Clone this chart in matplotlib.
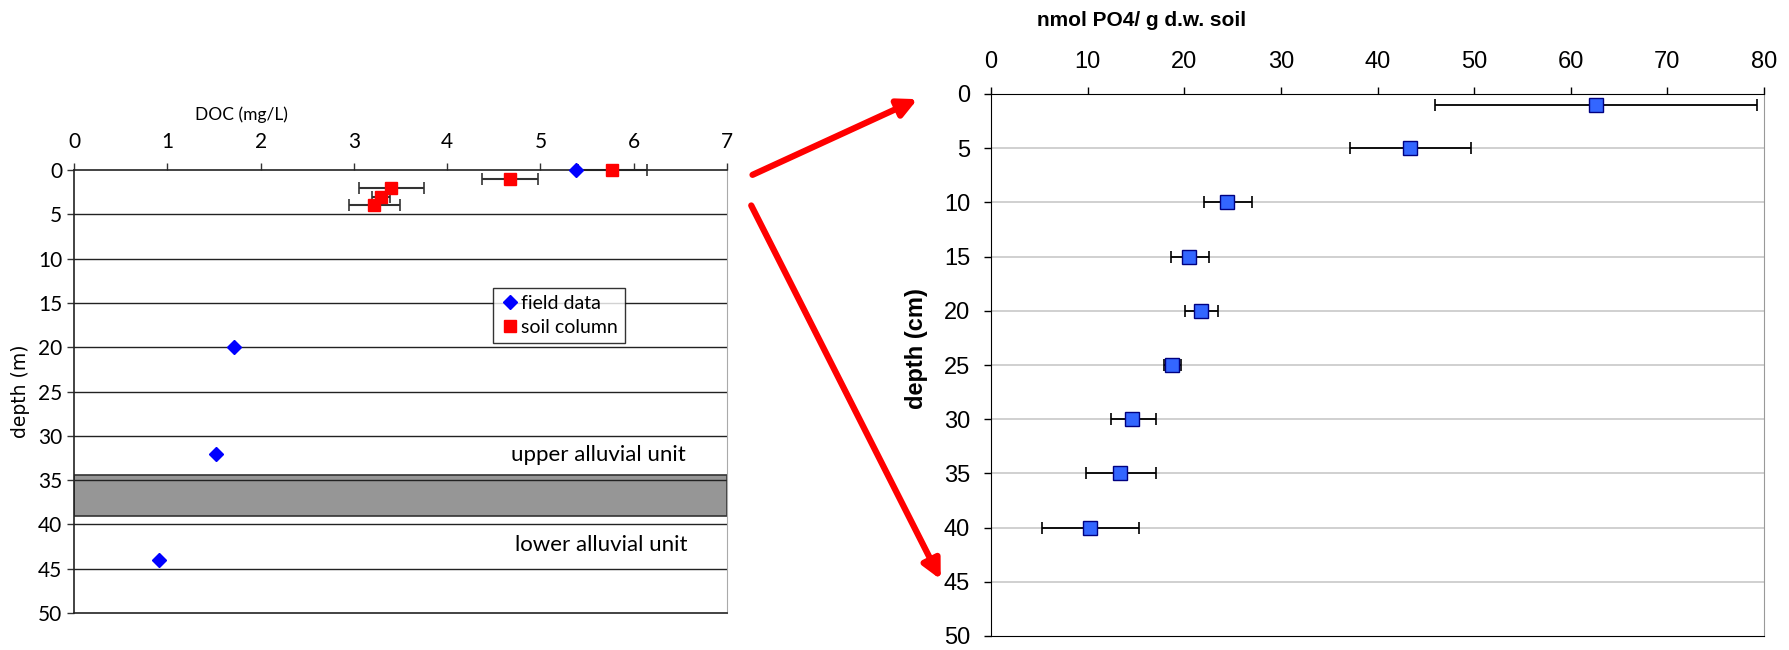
import matplotlib
matplotlib.use("Agg")
import matplotlib.pyplot as plt
from matplotlib.patches import FancyArrowPatch

# field data (DOC, depth m)
field_doc = [5.38, 1.72, 1.52, 0.91]
field_depth = [0, 20, 32, 44]

# soil column (DOC, depth m, error)
soil_doc = [5.77, 4.67, 3.40, 3.29, 3.22]
soil_depth = [0, 1, 2, 3, 4]
soil_err = [0.37, 0.30, 0.35, 0.10, 0.27]

# phosphate profile (nmol PO4/g, depth cm)
po4 = [62.6, 43.4, 24.4, 20.5, 21.7, 18.7, 14.6, 13.3, 10.2]
po4_depth = [1, 5, 10, 15, 20, 25, 30, 35, 40]
po4_lo = [46.0, 37.2, 22.0, 18.6, 20.1, 17.9, 12.4, 9.8, 5.3]
po4_hi = [79.3, 49.7, 27.0, 22.6, 23.5, 19.7, 17.1, 17.1, 15.3]

clay_top, clay_bottom = 34.4, 39.1

W, H = 1790, 650

fig = plt.figure(figsize=(17.9, 6.5), dpi=100)

# ---- left panel: DOC ----
ax1 = fig.add_axes([74 / W, 1 - 613 / H, 653 / W, 443 / H])
ax1.axhspan(clay_top, clay_bottom, facecolor="#969696", edgecolor="#333333", lw=1.2, zorder=1)
for d in range(5, 50, 5):
    ax1.axhline(d, color="#222222", lw=1.0, zorder=1)
ax1.errorbar(soil_doc, soil_depth, xerr=soil_err, fmt="none", ecolor="#333333",
             elinewidth=1.5, capsize=4, capthick=1.2, zorder=2, clip_on=False)
ax1.plot(field_doc, field_depth, "D", color="#0000ff", ms=7.5, ls="none",
         label="field data", zorder=3, clip_on=False)
ax1.plot(soil_doc, soil_depth, "s", color="#ff0000", ms=8, ls="none",
         label="soil column", zorder=3, clip_on=False)
ax1.set_xlim(0, 7)
ax1.set_ylim(50, 0)
ax1.set_xticks(range(0, 8))
ax1.set_yticks(range(0, 51, 5))
ax1.xaxis.tick_top()
ax1.tick_params(axis="both", direction="out", length=5, width=1, color="#333333", labelsize=15)
ax1.tick_params(axis="x", pad=8)
for lab in ax1.get_xticklabels() + ax1.get_yticklabels():
    lab.set_family("Lato")
for s in ["top", "left", "bottom"]:
    ax1.spines[s].set_color("#222222")
    ax1.spines[s].set_linewidth(1.2)
ax1.spines["right"].set_color("#aaaaaa")
ax1.text(0.257, 1.125, "DOC (mg/L)", transform=ax1.transAxes, ha="center", va="center",
         fontsize=12.5, family="Lato")
ax1.set_ylabel("depth (m)", fontsize=13.5, labelpad=6)
ax1.text(5.62, 32.2, "upper alluvial unit", ha="center", va="center", fontsize=16, family="Lato")
ax1.text(5.65, 42.3, "lower alluvial unit", ha="center", va="center", fontsize=16, family="Lato")
leg = ax1.legend(loc="upper left", bbox_to_anchor=(0.627, 0.755), frameon=True, fancybox=False,
                 edgecolor="black", prop={"family": "Lato", "size": 14}, handletextpad=0.1,
                 handlelength=1.0, borderpad=0.35, labelspacing=0.35)
leg.get_frame().set_linewidth(1.0)

# ---- right panel: PO4 ----
ax2 = fig.add_axes([991 / W, 1 - 636 / H, 773 / W, 542 / H])
for d in range(5, 50, 5):
    ax2.axhline(d, color="#c8c8c8", lw=1.2, zorder=1)
xerr = [[p - lo for p, lo in zip(po4, po4_lo)], [hi - p for p, hi in zip(po4, po4_hi)]]
ax2.errorbar(po4, po4_depth, xerr=xerr, fmt="none", ecolor="black", elinewidth=1.3,
             capsize=4, capthick=1.2, zorder=2)
ax2.plot(po4, po4_depth, "s", color="#3366ff", mec="#000080", mew=1.0, ms=9.5, ls="none", zorder=3)
ax2.set_xlim(0, 80)
ax2.set_ylim(50, 0)
ax2.set_xticks(range(0, 81, 10))
ax2.set_yticks(range(0, 51, 5))
ax2.xaxis.tick_top()
ax2.tick_params(axis="both", direction="out", length=5, width=1, color="black", labelsize=17)
ax2.tick_params(axis="x", pad=10)
ax2.tick_params(axis="y", pad=10)
for lab in ax2.get_xticklabels() + ax2.get_yticklabels():
    lab.set_family("Liberation Sans")
ax2.spines["right"].set_color("#999999")
ax2.text(0.195, 1.135, "nmol PO4/ g d.w. soil", transform=ax2.transAxes, ha="center",
         va="center", fontsize=15, fontweight="bold", family="Liberation Sans")
ax2.text(-0.097, 0.531, "depth (cm)", transform=ax2.transAxes, ha="center", va="center",
         rotation=90, fontsize=17, fontweight="bold", family="Liberation Sans")

# ---- red arrows ----
for (x0, y0), (x1, y1) in [((750, 176), (920, 98)), ((750, 203), (942, 582))]:
    arr = FancyArrowPatch((x0 / W, 1 - y0 / H), (x1 / W, 1 - y1 / H), transform=fig.transFigure,
                          arrowstyle="-|>", mutation_scale=28, lw=4.5, color="#ff0000")
    fig.add_artist(arr)

fig.savefig("out.png", dpi=100, facecolor="white")
